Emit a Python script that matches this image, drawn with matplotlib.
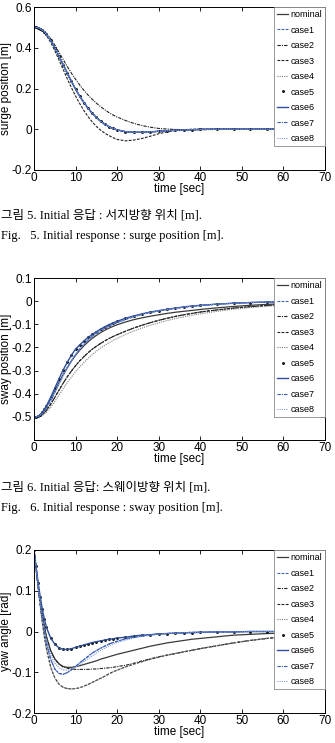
import matplotlib
matplotlib.use("Agg")
import matplotlib.pyplot as plt

# time grid shared by all three responses [sec]
t = [0, 0.5, 1, 1.5, 2, 2.5, 3, 4, 5, 6, 7, 8, 9, 10, 11, 12, 13, 14, 15, 16,
     17, 18, 19, 20, 22, 24, 26, 28, 30, 32, 34, 36, 38, 40, 44, 48, 52, 56,
     60, 64, 68, 70]

# surge position [m]
surge_main = [0.5, 0.5, 0.498, 0.494, 0.487, 0.478, 0.466, 0.436, 0.40, 0.36,
              0.317, 0.275, 0.235, 0.197, 0.162, 0.131, 0.103, 0.079, 0.058,
              0.040, 0.025, 0.013, 0.004, -0.003, -0.012, -0.015, -0.015,
              -0.013, -0.010, -0.007, -0.005, -0.003, -0.002, -0.001, 0, 0, 0,
              0, 0, 0, 0, 0]
surge_slow = [0.5, 0.5, 0.498, 0.494, 0.488, 0.480, 0.470, 0.445, 0.413, 0.378,
              0.343, 0.308, 0.275, 0.245, 0.217, 0.191, 0.168, 0.147, 0.128,
              0.111, 0.096, 0.082, 0.070, 0.060, 0.043, 0.029, 0.018, 0.010,
              0.004, 0.001, -0.001, -0.002, -0.002, -0.002, -0.001, 0, 0, 0,
              0, 0, 0, 0]
surge_fast = [0.5, 0.5, 0.497, 0.492, 0.484, 0.473, 0.460, 0.427, 0.386, 0.341,
              0.294, 0.248, 0.204, 0.163, 0.126, 0.092, 0.062, 0.036, 0.014,
              -0.004, -0.019, -0.031, -0.041, -0.050, -0.057, -0.053, -0.045,
              -0.034, -0.022, -0.013, -0.006, -0.002, 0, 0.001, 0.001, 0, 0, 0,
              0, 0, 0, 0]

# sway position [m]
sway_fast = [-0.5, -0.5, -0.497, -0.49, -0.48, -0.467, -0.452, -0.416, -0.376,
             -0.336, -0.298, -0.264, -0.234, -0.207, -0.189, -0.172, -0.157,
             -0.144, -0.132, -0.121, -0.111, -0.102, -0.094, -0.087, -0.074,
             -0.064, -0.055, -0.047, -0.041, -0.035, -0.030, -0.025, -0.021,
             -0.018, -0.013, -0.009, -0.006, -0.004, -0.003, -0.002, -0.001,
             -0.001]
sway_nom = [-0.5, -0.5, -0.498, -0.492, -0.483, -0.471, -0.457, -0.424, -0.388,
            -0.352, -0.318, -0.287, -0.259, -0.234, -0.212, -0.193, -0.176,
            -0.161, -0.148, -0.136, -0.126, -0.117, -0.109, -0.102, -0.090,
            -0.080, -0.072, -0.065, -0.059, -0.053, -0.048, -0.044, -0.040,
            -0.036, -0.029, -0.023, -0.018, -0.014, -0.011, -0.008, -0.006,
            -0.005]
sway_slow = [-0.5, -0.5, -0.499, -0.496, -0.49, -0.482, -0.472, -0.446, -0.416,
             -0.385, -0.355, -0.327, -0.302, -0.279, -0.258, -0.24, -0.223,
             -0.208, -0.195, -0.183, -0.172, -0.162, -0.153, -0.145, -0.13,
             -0.116, -0.104, -0.093, -0.083, -0.074, -0.066, -0.059, -0.053,
             -0.047, -0.038, -0.030, -0.024, -0.019, -0.015, -0.012, -0.01,
             -0.009]
sway_slowest = [-0.5, -0.5, -0.5, -0.498, -0.494, -0.488, -0.48, -0.459, -0.434,
                -0.406, -0.378, -0.352, -0.328, -0.305, -0.284, -0.265, -0.247,
                -0.231, -0.216, -0.203, -0.191, -0.18, -0.17, -0.161, -0.144,
                -0.129, -0.116, -0.104, -0.094, -0.084, -0.075, -0.068, -0.061,
                -0.055, -0.044, -0.035, -0.028, -0.022, -0.018, -0.014, -0.011,
                -0.01]
sway_mid = [-0.5, -0.5, -0.499, -0.494, -0.486, -0.475, -0.462, -0.43, -0.394,
            -0.357, -0.321, -0.288, -0.258, -0.231, -0.207, -0.186, -0.168,
            -0.152, -0.139, -0.127, -0.117, -0.108, -0.1, -0.093, -0.079,
            -0.067, -0.057, -0.049, -0.042, -0.036, -0.031, -0.026, -0.022,
            -0.019, -0.013, -0.009, -0.006, -0.004, -0.003, -0.002, -0.001,
            -0.001]

# yaw angle [rad]
yaw_fast = [0.2, 0.16, 0.12, 0.085, 0.055, 0.03, 0.01, -0.016, -0.031, -0.04,
            -0.044, -0.044, -0.042, -0.039, -0.036, -0.033, -0.03, -0.027,
            -0.025, -0.023, -0.021, -0.019, -0.018, -0.016, -0.014, -0.011,
            -0.009, -0.008, -0.006, -0.005, -0.004, -0.003, -0.003, -0.002,
            -0.001, -0.001, 0, 0, 0, 0, 0, 0]
yaw_nom = [0.2, 0.157, 0.113, 0.074, 0.04, 0.011, -0.013, -0.047, -0.067,
           -0.079, -0.086, -0.088, -0.088, -0.086, -0.084, -0.081, -0.078,
           -0.075, -0.072, -0.068, -0.065, -0.062, -0.059, -0.056, -0.051,
           -0.046, -0.041, -0.036, -0.032, -0.028, -0.025, -0.022, -0.019,
           -0.017, -0.013, -0.009, -0.007, -0.005, -0.004, -0.003, -0.002,
           -0.002]
yaw_dip = [0.2, 0.155, 0.11, 0.068, 0.031, -0.001, -0.028, -0.068, -0.092,
           -0.103, -0.105, -0.101, -0.094, -0.086, -0.077, -0.069, -0.061,
           -0.053, -0.047, -0.041, -0.036, -0.031, -0.027, -0.024, -0.018,
           -0.014, -0.011, -0.008, -0.006, -0.005, -0.004, -0.003, -0.002,
           -0.002, -0.001, -0.001, 0, 0, 0, 0, 0, 0]
yaw_flat = [0.2, 0.157, 0.113, 0.074, 0.04, 0.011, -0.013, -0.047, -0.068,
            -0.08, -0.087, -0.09, -0.092, -0.093, -0.093, -0.093, -0.093,
            -0.092, -0.092, -0.091, -0.09, -0.089, -0.088, -0.086, -0.083,
            -0.078, -0.072, -0.067, -0.062, -0.058, -0.054, -0.05, -0.046,
            -0.042, -0.035, -0.028, -0.022, -0.017, -0.013, -0.01, -0.008,
            -0.007]
yaw_deep = [0.2, 0.153, 0.106, 0.062, 0.022, -0.013, -0.043, -0.087, -0.114,
            -0.129, -0.137, -0.14, -0.141, -0.14, -0.138, -0.134, -0.13, -0.125,
            -0.12, -0.115, -0.11, -0.104, -0.099, -0.095, -0.087, -0.08, -0.074,
            -0.068, -0.063, -0.058, -0.054, -0.05, -0.046, -0.042, -0.035,
            -0.028, -0.022, -0.017, -0.013, -0.01, -0.008, -0.007]
yaw_light = [0.2, 0.156, 0.112, 0.071, 0.036, 0.006, -0.02, -0.057, -0.078,
             -0.089, -0.094, -0.095, -0.092, -0.087, -0.081, -0.074, -0.067,
             -0.06, -0.053, -0.047, -0.041, -0.036, -0.031, -0.027, -0.021,
             -0.016, -0.012, -0.009, -0.007, -0.005, -0.004, -0.003, -0.002,
             -0.002, -0.001, -0.001, 0, 0, 0, 0, 0, 0]

labels = ['nominal', 'case1', 'case2', 'case3', 'case4', 'case5', 'case6',
          'case7', 'case8']
surge_cases = [surge_main, surge_main, surge_slow, surge_fast, surge_main,
               surge_main, surge_main, surge_main, surge_main]
sway_cases = [sway_nom, sway_mid, sway_slow, sway_slow, sway_slowest,
              sway_fast, sway_fast, sway_mid, sway_mid]
yaw_cases = [yaw_nom, yaw_dip, yaw_flat, yaw_deep, yaw_deep, yaw_fast,
             yaw_fast, yaw_dip, yaw_light]

styles = [
    dict(color='#3a3a3a', ls='-', lw=0.9),
    dict(color='#3f63b8', ls=(0, (2.5, 1.2)), lw=0.8),
    dict(color='#222222', ls=(0, (3, 1, 1, 1)), lw=0.8),
    dict(color='#222222', ls=(0, (2.5, 1.2)), lw=0.8),
    dict(color='#808080', ls=(0, (1, 1)), lw=0.8),
    dict(color='#111111', ls='none', marker='.', ms=2.2),
    dict(color='#2f4f9a', ls='-', lw=1.0),
    dict(color='#3559b0', ls=(0, (3, 1, 1, 1)), lw=0.8),
    dict(color='#7d9ad8', ls=(0, (1, 1)), lw=0.8),
]

plt.rcParams['font.family'] = ['Liberation Sans', 'DejaVu Sans']

W, H = 335, 743
fig = plt.figure(figsize=(W / 100, H / 100), dpi=100)


def panel(top, bottom, cases, ylim, yticks, yticklabels, ylabel):
    left, right = 34, 325
    ax = fig.add_axes([left / W, 1 - bottom / H, (right - left) / W,
                       (bottom - top) / H])
    for data, lab, st in zip(cases, labels, styles):
        ax.plot(t, data, label=lab, **st)
    ax.set_xlim(0, 70)
    ax.set_ylim(*ylim)
    ax.set_xticks(range(0, 71, 10))
    ax.set_yticks(yticks)
    ax.set_yticklabels(yticklabels)
    ax.tick_params(direction='in', top=True, right=True, length=3,
                   width=0.6, labelsize=8.5, pad=1.5)
    for s in ax.spines.values():
        s.set_linewidth(0.7)
    ax.set_xlabel('time [sec]', fontsize=8.5, labelpad=-1)
    ax.set_ylabel(ylabel, fontsize=8.5)
    ax.yaxis.set_label_coords((12 - left) / (right - left), 0.5)
    leg = ax.legend(loc='upper right', fontsize=6.5, borderaxespad=0,
                    handlelength=1.3, handletextpad=0.2, labelspacing=0.72,
                    borderpad=0.35, fancybox=False, framealpha=1,
                    edgecolor='#888888')
    leg.get_frame().set_linewidth(0.6)
    return ax


panel(7, 170, surge_cases, (-0.2, 0.6), [-0.2, 0, 0.2, 0.4, 0.6],
      ['-0.2', '0', '0.2', '0.4', '0.6'], 'surge position [m]')
panel(278, 440, sway_cases, (-0.6, 0.1),
      [-0.5, -0.4, -0.3, -0.2, -0.1, 0, 0.1],
      ['-0.5', '-0.4', '-0.3', '-0.2', '-0.1', '0', '0.1'],
      'sway position [m]')
panel(550, 713, yaw_cases, (-0.2, 0.2), [-0.2, -0.1, 0, 0.1, 0.2],
      ['-0.2', '-0.1', '0', '0.1', '0.2'], 'yaw angle [rad]')

cap = dict(fontsize=9, family=['Liberation Serif', 'Noto Sans CJK KR'],
           va='center', ha='left')
fig.text(1 / W, 1 - 215 / H, '그림 5. Initial 응답 : 서지방향 위치 [m].', **cap)
fig.text(1 / W, 1 - 236 / H, 'Fig.   5. Initial response : surge position [m].', **cap)
fig.text(1 / W, 1 - 487 / H, '그림 6. Initial 응답: 스웨이방향 위치 [m].', **cap)
fig.text(1 / W, 1 - 508 / H, 'Fig.   6. Initial response : sway position [m].', **cap)

fig.savefig('out.png', dpi=100)
